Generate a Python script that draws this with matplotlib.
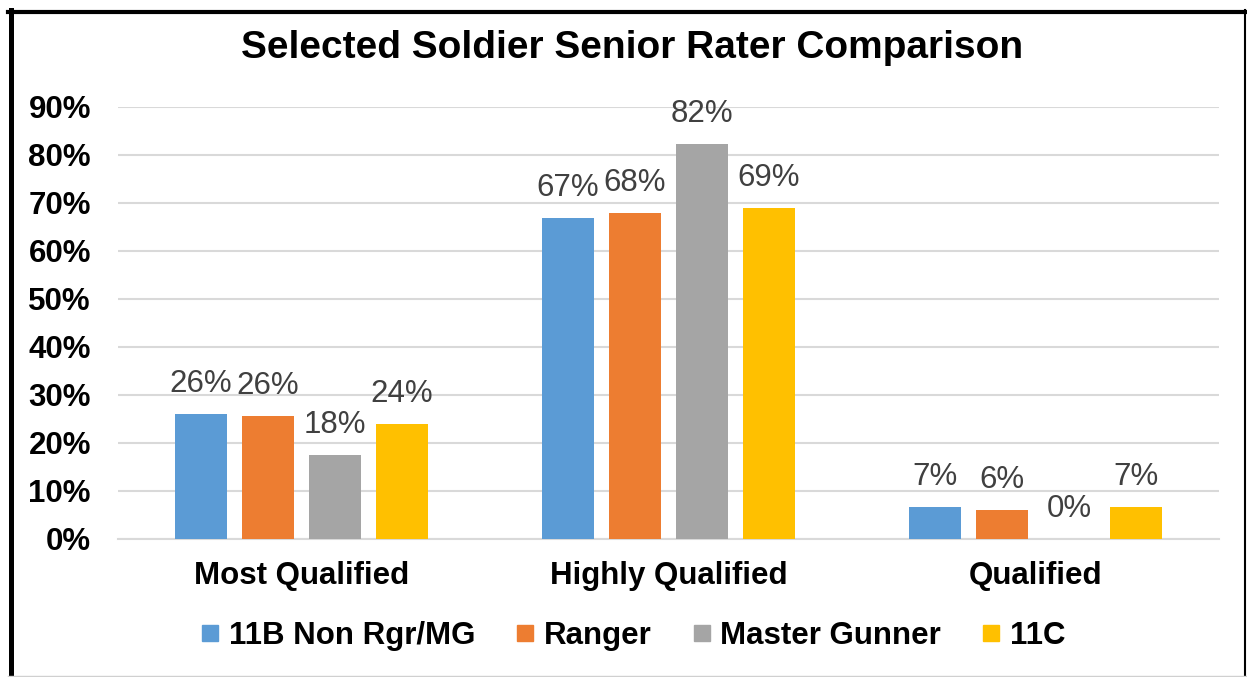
import numpy as np
import matplotlib
matplotlib.use("Agg")
import matplotlib.pyplot as plt
from matplotlib.lines import Line2D

plt.rcParams['font.family'] = ['Liberation Sans', 'DejaVu Sans']

categories = ["Most Qualified", "Highly Qualified", "Qualified"]
series = ["11B Non Rgr/MG", "Ranger", "Master Gunner", "11C"]
values = [
    [26, 67, 7],   # 11B Non Rgr/MG
    [26, 68, 6],   # Ranger
    [18, 82, 0],   # Master Gunner
    [24, 69, 7],   # 11C
]
# actual bar heights (slightly different from rounded labels)
heights = [
    [26.0, 66.9, 6.7],
    [25.6, 67.9, 6.0],
    [17.5, 82.3, 0.0],
    [24.0, 69.0, 6.7],
]
colors = ["#5b9bd5", "#ed7d31", "#a5a5a5", "#ffc000"]

W, H = 1247, 677
fig = plt.figure(figsize=(W / 100, H / 100), dpi=100)
ax = fig.add_axes([118 / W, 1 - 539 / H, (1219 - 118) / W, (539 - 107) / H])

x = np.arange(len(categories))
step = 0.1826
width = 0.144
for i, name in enumerate(series):
    pos = x + (i - 1.5) * step
    h = np.array(heights[i]) / 100
    ax.bar(pos, h, width, color=colors[i], zorder=3)
    for px, hv, lab in zip(pos, h, values[i]):
        ax.annotate(f"{lab}%", (px, hv), xytext=(0, 16), textcoords="offset points",
                    ha="center", va="baseline", fontsize=22.5, color="#404040")

ax.set_xlim(-0.5, 2.5)
ax.set_ylim(0, 0.9)
ax.set_yticks(np.arange(0, 0.91, 0.1))
ax.set_yticklabels([f"{int(round(t * 100))}%" for t in np.arange(0, 0.91, 0.1)],
                   fontsize=22.5, fontweight="bold")
ax.set_xticks(x)
ax.set_xticklabels(categories, fontsize=22.5, fontweight="bold")
ax.tick_params(axis="both", length=0)
ax.tick_params(axis="y", pad=19.5)
ax.tick_params(axis="x", pad=16)
ax.grid(axis="y", color="#d9d9d9", linewidth=1.5, zorder=0)
for s in ["top", "right", "left"]:
    ax.spines[s].set_visible(False)
ax.spines["bottom"].set_color("#d9d9d9")
ax.spines["bottom"].set_linewidth(1.5)

fig.text(632 / W, 1 - 48 / H, "Selected Soldier Senior Rater Comparison",
         ha="center", va="center", fontsize=28, fontweight="bold")

handles = [Line2D([], [], marker="s", ls="", color=c, markersize=12) for c in colors]
fig.legend(handles, series, loc="center", bbox_to_anchor=(633 / W, 1 - 636 / H),
           ncol=4, frameon=False, prop={"size": 22.5, "weight": "bold"},
           handlelength=0.6, handletextpad=0.3, columnspacing=1.3)

# border around the chart
fig.add_artist(Line2D([10.5 / W, 10.5 / W], [0, 1 - 10 / H], color="black", lw=3.6))
fig.add_artist(Line2D([8 / W, 1246 / W], [1 - 12 / H, 1 - 12 / H], color="black", lw=3))
fig.add_artist(Line2D([1245 / W, 1245 / W], [0, 1 - 10 / H], color="black", lw=1.5))
fig.add_artist(Line2D([8 / W, 1246 / W], [1 - 676 / H, 1 - 676 / H], color="#d0d0d0", lw=1))

fig.savefig("out.png", dpi=100)
